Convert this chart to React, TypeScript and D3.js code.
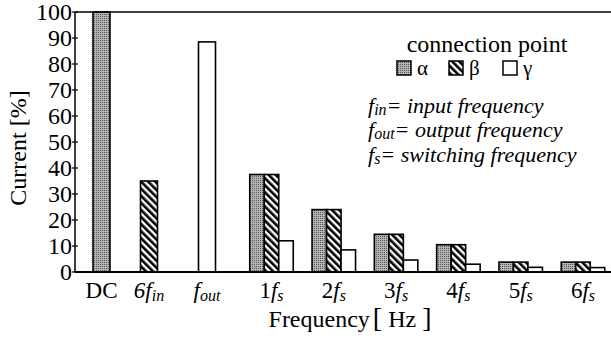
import React from 'react';
import * as d3 from 'd3';

const categories = ['DC', '6fin', 'fout', '1fs', '2fs', '3fs', '4fs', '5fs', '6fs'];
const alphaValues = [100, 0, 0, 37.5, 24, 14.5, 10.5, 3.8, 3.8];
const betaValues = [0, 35, 0, 37.5, 24, 14.5, 10.5, 3.8, 3.8];
const gammaValues = [0, 0, 88.5, 12, 8.5, 4.6, 3, 1.8, 1.7];
const yTicks = [0, 10, 20, 30, 40, 50, 60, 70, 80, 90, 100];

const width = 611;
const height = 341;
const margin = { left: 75, top: 12, bottom: 69 };
const font = "'Liberation Serif', Tinos, 'Times New Roman', serif";

const series = [
  { key: 'alpha', name: 'α', values: alphaValues, fill: 'url(#dots)' },
  { key: 'beta', name: 'β', values: betaValues, fill: 'url(#stripes)' },
  { key: 'gamma', name: 'γ', values: gammaValues, fill: '#fff' },
];

function XLabel({ cat }: { cat: string }) {
  const sub = { fontSize: 16, dy: 3 };
  if (cat === 'DC') return <tspan>DC</tspan>;
  if (cat === '6fin')
    return (
      <>
        <tspan fontStyle="italic">6f</tspan>
        <tspan fontStyle="italic" fontSize={sub.fontSize} dy={sub.dy}>in</tspan>
      </>
    );
  if (cat === 'fout')
    return (
      <>
        <tspan fontStyle="italic">f</tspan>
        <tspan fontStyle="italic" fontSize={sub.fontSize} dy={sub.dy}>out</tspan>
      </>
    );
  return (
    <>
      <tspan>{cat[0]}</tspan>
      <tspan fontStyle="italic">f</tspan>
      <tspan fontStyle="italic" fontSize={sub.fontSize} dy={sub.dy}>s</tspan>
    </>
  );
}

export default function App() {
  const y = d3.scaleLinear().domain([0, 100]).range([height - margin.bottom, margin.top]);
  // category centres are not evenly spaced in the original figure
  const x = d3.scaleLinear().domain([0, 1, 2, 3, 8]).range([101.5, 149, 207, 271.5, 583]);
  const groupBar = 14.5;
  const singleBar = 17;

  const bars: { key: string; x: number; w: number; v: number; fill: string }[] = [];
  categories.forEach((cat, i) => {
    const active = series.filter((s) => s.values[i] > 0);
    if (active.length === 1) {
      const s = active[0];
      bars.push({ key: cat + s.key, x: x(i) - singleBar / 2, w: singleBar, v: s.values[i], fill: s.fill });
    } else {
      series.forEach((s, j) => {
        bars.push({ key: cat + s.key, x: x(i) + (j - 1.5) * groupBar, w: groupBar, v: s.values[i], fill: s.fill });
      });
    }
  });

  const y0 = y(0);

  return (
    <svg width={width} height={height} style={{ position: 'absolute', left: 0, top: 0, fontFamily: font }}>
      <defs>
        <pattern id="dots" width="2" height="2" patternUnits="userSpaceOnUse">
          <rect width="2" height="2" fill="#b4b4b4" />
          <rect width="1" height="1" fill="#555" />
        </pattern>
        <pattern id="stripes" width="5" height="5" patternUnits="userSpaceOnUse" patternTransform="rotate(-45)">
          <rect width="5" height="5" fill="#fff" />
          <rect width="2.6" height="5" fill="#000" />
        </pattern>
      </defs>

      {/* bars */}
      {bars.map((b) => (
        <rect key={b.key} x={b.x} y={y(b.v)} width={b.w} height={y0 - y(b.v)} fill={b.fill} stroke="#000" strokeWidth={1.6} />
      ))}

      {/* frame */}
      <line x1={margin.left} x2={width} y1={margin.top} y2={margin.top} stroke="#000" strokeWidth={1.5} />
      <line x1={margin.left} x2={width} y1={y0} y2={y0} stroke="#000" strokeWidth={2} />
      <line x1={margin.left} x2={margin.left} y1={margin.top} y2={y0} stroke="#000" strokeWidth={1.5} />

      {/* y ticks */}
      {yTicks.map((t) => (
        <g key={t}>
          <line x1={margin.left - 3} x2={margin.left + 3} y1={y(t)} y2={y(t)} stroke="#000" strokeWidth={1.2} />
          <text x={margin.left - 3} y={y(t) + 7.5} textAnchor="end" fontSize={24}>{t}</text>
        </g>
      ))}

      {/* x labels */}
      {categories.map((cat, i) => (
        <text key={cat} x={x(i)} y={298} textAnchor="middle" fontSize={23}>
          <XLabel cat={cat} />
        </text>
      ))}

      <text x={350} y={327} textAnchor="middle" fontSize={24}>
        Frequency<tspan fontSize={28} dx={3}>[</tspan> Hz <tspan fontSize={28}>]</tspan>
      </text>
      <text transform={`translate(26,${148}) rotate(-90)`} textAnchor="middle" fontSize={24}>
        Current [%]
      </text>

      {/* legend */}
      <text x={487} y={52} textAnchor="middle" fontSize={24}>connection point</text>
      {series.map((s, j) => {
        const sx = [397, 449, 503][j];
        return (
          <g key={s.key}>
            <rect x={sx} y={61} width={14} height={14} fill={s.fill} stroke="#000" strokeWidth={1.5} />
            <text x={sx + 20} y={75} fontSize={21}>{s.name}</text>
          </g>
        );
      })}

      <g fontStyle="italic" fontSize={22}>
        <text x={368} y={113}>
          f<tspan fontSize={16} dy={2}>in</tspan><tspan dy={-2}>= input frequency</tspan>
        </text>
        <text x={368} y={137}>
          f<tspan fontSize={16} dy={2}>out</tspan><tspan dy={-2}>= output frequency</tspan>
        </text>
        <text x={368} y={162}>
          f<tspan fontSize={16} dy={2}>s</tspan><tspan dy={-2}>= switching frequency</tspan>
        </text>
      </g>
    </svg>
  );
}
